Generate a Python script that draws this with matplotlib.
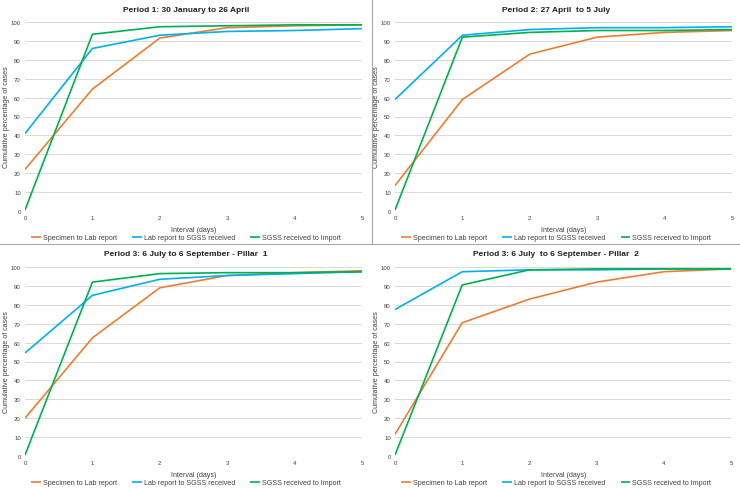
import matplotlib
matplotlib.use("Agg")
import matplotlib.pyplot as plt
from matplotlib.lines import Line2D

plt.rcParams['font.family'] = ['Liberation Sans', 'DejaVu Sans']

# interval in days
days = [0, 1, 2, 3, 4, 5]

titles = [
    "Period 1: 30 January to 26 April",
    "Period 2: 27 April  to 5 July",
    "Period 3: 6 July to 6 September - Pillar  1",
    "Period 3: 6 July  to 6 September - Pillar  2",
]
series_names = ["Specimen to Lab report", "Lab report to SGSS received", "SGSS received to Import"]

# cumulative % of cases, one list per panel
specimen_to_lab = [
    [22, 64.5, 91.5, 97, 98, 98.5],
    [13.5, 59, 83, 92, 94.5, 95.5],
    [20, 62.5, 89, 95.5, 97, 98],
    [11.5, 70.5, 83, 92, 97.5, 99],
]
lab_to_sgss = [
    [41, 86, 93, 95, 95.5, 96.5],
    [59, 93, 96, 97, 97, 97.5],
    [54.5, 85, 93.5, 95.5, 96.5, 97.5],
    [77.5, 97.5, 98.5, 98.5, 99, 99],
]
sgss_to_import = [
    [0.5, 93.5, 97.5, 98, 98.5, 98.5],
    [0.5, 92, 94.5, 95.5, 95.5, 96],
    [0.5, 92, 96.5, 97, 97, 97.5],
    [0.5, 90.5, 98.5, 99, 99, 99],
]

colors = ["#ED7D31", "#00B0F0", "#00B050"]

W, H = 740, 489
fig = plt.figure(figsize=(W / 100, H / 100), dpi=100)

# pixel boxes of each plot area: left, top, right, bottom
boxes = [
    (25, 23, 362, 212),
    (395, 23, 732, 212),
    (25, 268, 362, 457),
    (395, 268, 731, 457),
]
offsets = [(0, 0), (370, 0), (0, 245), (370, 245)]

for i in range(4):
    l, t, r, b = boxes[i]
    ox, oy = offsets[i]
    w, h = r - l, b - t
    ax = fig.add_axes([l / W, 1 - b / H, w / W, h / H])
    data = [specimen_to_lab[i], lab_to_sgss[i], sgss_to_import[i]]
    for vals, c, name in zip(data, colors, series_names):
        ax.plot(days, vals, color=c, lw=1.2, label=name, solid_capstyle='butt')
    ax.set_xlim(0, 5)
    ax.set_ylim(0, 100)
    ax.set_yticks(range(0, 101, 10))
    ax.set_xticks(days)
    ax.grid(axis='y', color='#D9D9D9', lw=0.7)
    ax.set_axisbelow(True)
    for s in ax.spines.values():
        s.set_visible(False)
    ax.tick_params(length=0, labelsize=4.3, colors='#404040', pad=3)
    ax.set_xlabel("Interval (days)", fontsize=5.1, color='#404040')
    ax.xaxis.set_label_coords(((ox + 194) - l) / w, (b - (oy + 227)) / h)
    ax.set_ylabel("Cumulative percentage of cases", fontsize=5.1, color='#404040')
    ax.yaxis.set_label_coords(((ox + 10) - l) / w, 0.5)
    fig.text((ox + 186) / W, 1 - (oy + 10) / H, titles[i], ha='center', va='center',
             fontsize=6, fontweight='bold', color='#202020')
    ax.legend(loc='center', bbox_to_anchor=((ox + 186) / W, 1 - (oy + 239) / H),
              bbox_transform=fig.transFigure, ncol=3, frameon=False, fontsize=5.1,
              handlelength=1.4, handletextpad=0.2, columnspacing=2.2,
              labelcolor='#404040', borderpad=0, borderaxespad=0)

# panel separators
fig.add_artist(Line2D([372 / W, 372 / W], [1, 1 - 245 / H], color='#A6A6A6', lw=0.8))
fig.add_artist(Line2D([0, 1], [1 - 245 / H, 1 - 245 / H], color='#A6A6A6', lw=0.8))

fig.savefig("out.png", dpi=100)
